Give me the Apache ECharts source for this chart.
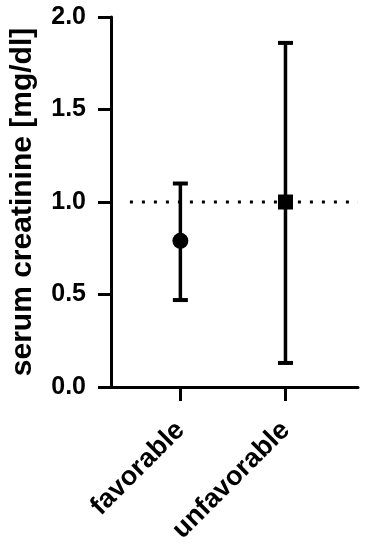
<!DOCTYPE html>
<html>
<head>
<meta charset="utf-8">
<script src="https://cdn.jsdelivr.net/npm/echarts@6/dist/echarts.min.js"></script>
<style>
html,body{margin:0;padding:0;background:#fff;}
#chart{width:366px;height:550px;}
</style>
</head>
<body>
<div id="chart"></div>
<script>
var categories = ['favorable', 'unfavorable'];
var means = [0.79, 1.0];
var lowers = [0.47, 0.13];
var uppers = [1.10, 1.86];
var symbols = ['circle', 'rect'];
var yTicks = [0, 0.5, 1.0, 1.5, 2.0];
var refLine = [[-0.48, 1.0], [1.69, 1.0]];

var FONT = '"Liberation Sans", Arial, sans-serif';
var chart = echarts.init(document.getElementById('chart'), null, {renderer: 'canvas'});

var errData = categories.map(function (c, i) { return [i, lowers[i], uppers[i]]; });

var option = {
  animation: false,
  backgroundColor: '#fff',
  grid: {left: 109, right: 8, top: 17, bottom: 163, containLabel: false},
  xAxis: {
    type: 'value',
    min: -0.66,
    max: 1.69,
    splitLine: {show: false},
    axisLine: {show: true, onZero: false, lineStyle: {color: '#000', width: 3}},
    axisTick: {show: true, length: 14, lineStyle: {color: '#000', width: 3}, customValues: [0, 1]},
    axisLabel: {
      show: true, rotate: 45, margin: 39, customValues: [0, 1],
      fontFamily: FONT, fontWeight: 'bold', fontSize: 27, color: '#000',
      formatter: function (v) { return categories[Math.round(v)] || ''; }
    }
  },
  yAxis: {
    type: 'value',
    min: 0, max: 2, interval: 0.5,
    name: 'serum creatinine [mg/dl]',
    nameLocation: 'middle',
    nameRotate: 90,
    nameGap: 73,
    nameTextStyle: {fontFamily: FONT, fontWeight: 'bold', fontSize: 30, color: '#000'},
    splitLine: {show: false},
    axisLine: {show: true, onZero: false, lineStyle: {color: '#000', width: 3}},
    axisTick: {show: true, length: 13, lineStyle: {color: '#000', width: 3}},
    axisLabel: {
      margin: 25, fontFamily: FONT, fontWeight: 'bold', fontSize: 25, color: '#000',
      formatter: function (v) { return v.toFixed(1); }
    }
  },
  series: [
    {
      type: 'line',
      data: refLine,
      symbol: 'none',
      silent: true,
      lineStyle: {color: '#000', width: 3, type: [3, 9]},
      z: 1
    },
    {
      type: 'custom',
      data: errData,
      z: 2,
      renderItem: function (params, api) {
        var x = api.value(0);
        var lo = api.coord([x, api.value(1)]);
        var hi = api.coord([x, api.value(2)]);
        var hw = 7.5;
        var style = {stroke: '#000', lineWidth: 3.5, fill: null};
        return {
          type: 'group',
          children: [
            {type: 'line', shape: {x1: lo[0], y1: lo[1], x2: hi[0], y2: hi[1]}, style: style},
            {type: 'line', shape: {x1: lo[0] - hw, y1: lo[1], x2: lo[0] + hw, y2: lo[1]}, style: {stroke: '#000', lineWidth: 4}},
            {type: 'line', shape: {x1: hi[0] - hw, y1: hi[1], x2: hi[0] + hw, y2: hi[1]}, style: {stroke: '#000', lineWidth: 4}}
          ]
        };
      }
    },
    {
      type: 'scatter',
      z: 3,
      data: means.map(function (m, i) {
        return {value: [i, m], symbol: symbols[i], symbolSize: symbols[i] === 'rect' ? 15 : 16};
      }),
      itemStyle: {color: '#000', opacity: 1}
    }
  ]
};
chart.setOption(option);
</script>
</body>
</html>
